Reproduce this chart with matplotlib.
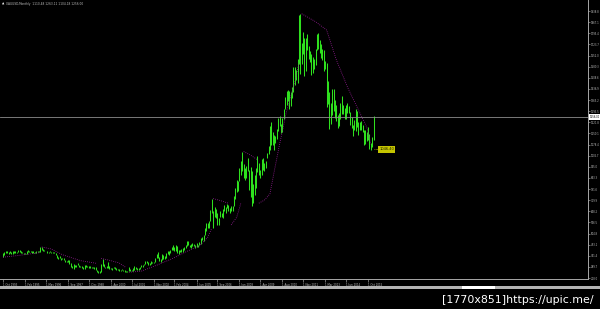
import numpy as np
import matplotlib
matplotlib.use("Agg")
import matplotlib.pyplot as plt
from matplotlib.patches import Rectangle
from matplotlib.transforms import blended_transform_factory

# ---------------- data (XAUUSD monthly, first bar = Oct 1993) ----------------
first_month = "Oct 1993"
month_low = [
    355, 368, 380,
    377, 375, 380, 370, 375, 380, 380, 377, 386, 385, 380, 376,
    372, 371, 375, 388, 383, 384, 382, 380, 381, 381, 383, 385,
    388, 396, 392, 389, 389, 381, 380, 384, 378, 379, 376, 366,
    345, 339, 345, 336, 338, 334, 318, 319, 318, 306, 291, 281,
    278, 292, 290, 302, 291, 286, 285, 273, 275, 290, 290, 285,
    285, 285, 280, 279, 268, 257, 253, 251, 254, 296, 290, 280,
    281, 284, 277, 273, 270, 280, 276, 272, 270, 263, 262, 267,
    262, 255, 255, 255, 264, 265, 264, 265, 270, 275, 272, 272,
    276, 289, 288, 299, 306, 315, 301, 300, 311, 312, 315, 320,
    345, 345, 325, 322, 335, 340, 340, 346, 372, 369, 380, 398,
    398, 393, 394, 381, 371, 386, 388, 388, 397, 411, 422, 430,
    417, 412, 424, 422, 414, 415, 418, 430, 435, 460, 458, 494,
    520, 540, 538, 585, 640, 543, 608, 606, 560, 560, 612, 612,
    602, 648, 637, 666, 650, 640, 648, 650, 680, 730, 770, 781,
    843, 880, 910, 865, 850, 860, 910, 786, 740, 681, 700, 750,
    800, 900, 880, 865, 880, 915, 908, 930, 990, 1020, 1043, 1075,
    1075, 1045, 1085, 1115, 1165, 1200, 1155, 1160, 1243, 1310, 1330, 1360,
    1308, 1325, 1380, 1420, 1460, 1495, 1478, 1600, 1534, 1600, 1660, 1523,
    1550, 1690, 1627, 1612, 1527, 1540, 1564, 1590, 1688, 1693, 1670, 1635,
    1626, 1555, 1564, 1322, 1337, 1180, 1208, 1270, 1293, 1251, 1230, 1182,
    1200, 1240, 1278, 1277, 1240, 1240, 1282, 1280, 1206, 1183, 1131, 1170,
    1167, 1190, 1142, 1175, 1170, 1162, 1077, 1080, 1099, 1107, 1052, 1046,
    1062, 1110,
]
month_high = [
    378, 385, 393,
    395, 386, 393, 386, 389, 392, 390, 388, 398, 396, 391, 385,
    380, 380, 393, 397, 393, 392, 390, 390, 388, 390, 390, 390,
    418, 416, 403, 396, 395, 390, 388, 390, 387, 386, 385, 380,
    366, 352, 357, 347, 349, 346, 335, 330, 333, 334, 312, 298,
    306, 305, 302, 314, 302, 298, 295, 288, 300, 300, 298, 297,
    293, 290, 289, 291, 290, 271, 262, 260, 310, 338, 306, 292,
    293, 320, 295, 285, 282, 292, 290, 281, 277, 275, 270, 275,
    272, 268, 265, 264, 292, 275, 272, 280, 295, 290, 280, 282,
    290, 304, 304, 310, 328, 330, 320, 316, 328, 324, 322, 349,
    373, 385, 351, 340, 373, 368, 363, 376, 394, 391, 398, 418,
    428, 416, 428, 426, 397, 399, 407, 412, 419, 430, 457, 455,
    430, 438, 446, 437, 431, 443, 432, 450, 475, 480, 497, 540,
    572, 575, 587, 654, 730, 650, 677, 665, 640, 605, 650, 640,
    660, 690, 673, 695, 690, 670, 685, 685, 745, 795, 848, 840,
    930, 975, 1033, 950, 930, 940, 990, 915, 935, 910, 825, 880,
    925, 1007, 960, 915, 985, 990, 960, 970, 1025, 1070, 1195, 1225,
    1162, 1140, 1135, 1180, 1250, 1265, 1210, 1250, 1310, 1387, 1425, 1432,
    1424, 1415, 1447, 1575, 1577, 1560, 1632, 1911, 1921, 1730, 1803, 1763,
    1764, 1790, 1715, 1680, 1663, 1640, 1630, 1695, 1790, 1796, 1755, 1725,
    1695, 1685, 1617, 1605, 1487, 1420, 1348, 1433, 1434, 1362, 1330, 1267,
    1280, 1345, 1392, 1331, 1315, 1331, 1345, 1324, 1290, 1255, 1205, 1238,
    1307, 1293, 1224, 1225, 1232, 1205, 1170, 1170, 1157, 1192, 1145, 1090,
    1127, 1263,
]

# Parabolic SAR dots (month index, price); nan = break
sar_month = [0, 10, 20, 27, np.nan,
             28, 35, 43, 56, 68, np.nan,
             71, 78, 84, 89, np.nan,
             91, 100, 111, 123, 133, 142, 148, 151, np.nan,
             152, 158, 163, np.nan,
             165, 169, 172, np.nan,
             174, 179, 184, np.nan,
             185, 189, 193, 196, 200, 205, 211, 214, np.nan,
             216, 226, 234, 241, 249, 256, 263, 266]
sar_value = [352, 362, 374, 382, np.nan,
             418, 405, 368, 330, 312, np.nan,
             345, 330, 315, 285, np.nan,
             255, 262, 300, 345, 390, 425, 480, 540, np.nan,
             730, 715, 700, np.nan,
             560, 610, 700, np.nan,
             1033, 1010, 980, np.nan,
             700, 720, 760, 900, 1080, 1290, 1480, 1600, np.nan,
             1921, 1870, 1816, 1625, 1450, 1320, 1190, 1080]

price_ticks = [218.0 + 71.7 * k for k in range(25)]
date_tick_months = [0, 16, 31, 47, 62, 78, 93, 109, 124, 140, 155, 171, 186,
                    202, 217, 233, 248, 264]
date_tick_labels = ["1 Oct 1993", "1 Feb 1995", "1 May 1996", "1 Sep 1997",
                    "1 Dec 1998", "1 Apr 2000", "1 Jul 2001", "1 Nov 2002",
                    "1 Feb 2004", "1 Jun 2005", "1 Sep 2006", "1 Jan 2008",
                    "1 Apr 2009", "1 Aug 2010", "1 Nov 2011", "1 Mar 2013",
                    "1 Jun 2014", "1 Oct 2015"]
current_price = 1256.00
low_label_month = 272
low_label_price = 1046.40
header_text = "XAUUSD,Monthly  1110.48 1263.11 1104.18 1256.00"
watermark = "[1770x851]https://upic.me/"

# ---------------- figure ----------------
W, H = 600, 309
fig = plt.figure(figsize=(W / 100, H / 100), dpi=100, facecolor="black")
ax = fig.add_axes([0, 1 - 279 / H, 588 / W, 279 / H])
ax.set_facecolor("black")

months = np.arange(len(month_low))
ax.vlines(months, month_low, month_high, color="#2fe01e", lw=0.75)
ax.plot(sar_month, sar_value, color="#9a1e9a", ls=(0, (1, 1.5)), lw=0.6)

ax.axhline(current_price, color="#8c8c8c", lw=0.6)

ax.set_xlim(-2.17, 423)
ax.set_ylim(211.6, 2009.7)

for s in ("top", "left"):
    ax.spines[s].set_visible(False)
for s in ("right", "bottom"):
    ax.spines[s].set_color("#a8a8a8")
    ax.spines[s].set_linewidth(0.7)

ax.yaxis.tick_right()
ax.set_yticks(price_ticks)
ax.set_yticklabels([f"{v:.1f}" for v in price_ticks])
ax.tick_params(axis="y", colors="#bdbdbd", labelsize=1.8, length=1.2,
               width=0.4, pad=0.6)
ax.set_xticks(date_tick_months)
ax.set_xticklabels(date_tick_labels)
ax.tick_params(axis="x", colors="#bdbdbd", labelsize=1.9, length=2,
               width=0.4, pad=0.8)
for lbl in ax.get_xticklabels():
    lbl.set_ha("left")

# current price box on the right scale
tr = blended_transform_factory(ax.transAxes, ax.transData)
ax.text(1.003, current_price, f"{current_price:.2f}", transform=tr,
        fontsize=1.8, color="black", va="center", ha="left",
        bbox=dict(boxstyle="square,pad=0.3", fc="white", ec="none"),
        clip_on=False)

# label at recent low
ax.plot([268, low_label_month - 0.5], [low_label_price, low_label_price],
        color="#c8c800", lw=0.5, ls=(0, (1, 1)))
ax.text(low_label_month, low_label_price, f"{low_label_price:.2f}",
        fontsize=2.6, color="#202000", va="center", ha="left",
        bbox=dict(boxstyle="square,pad=0.3", fc="#c4c400", ec="none"))

# header
fig.text(2 / W, 1 - 3.5 / H, "\u25b2", fontsize=2.2, color="white",
         va="center", ha="left")
fig.text(6 / W, 1 - 3.5 / H, header_text, fontsize=2.1, color="#bdbdbd",
         va="center", ha="left")

# bottom tab strip
fig.add_artist(Rectangle((0, 1 - 288.5 / H), 1, 2.5 / H,
                         transform=fig.transFigure, fc="#b4b4b4", ec="none"))
fig.add_artist(Rectangle((462 / W, 1 - 288.5 / H), 33 / W, 3 / H,
                         transform=fig.transFigure, fc="white", ec="none"))

fig.text(594 / W, 1 - 300 / H, watermark, fontsize=7.9, color="white",
         ha="right", va="center")

fig.savefig("out.png", dpi=100, facecolor="black")
